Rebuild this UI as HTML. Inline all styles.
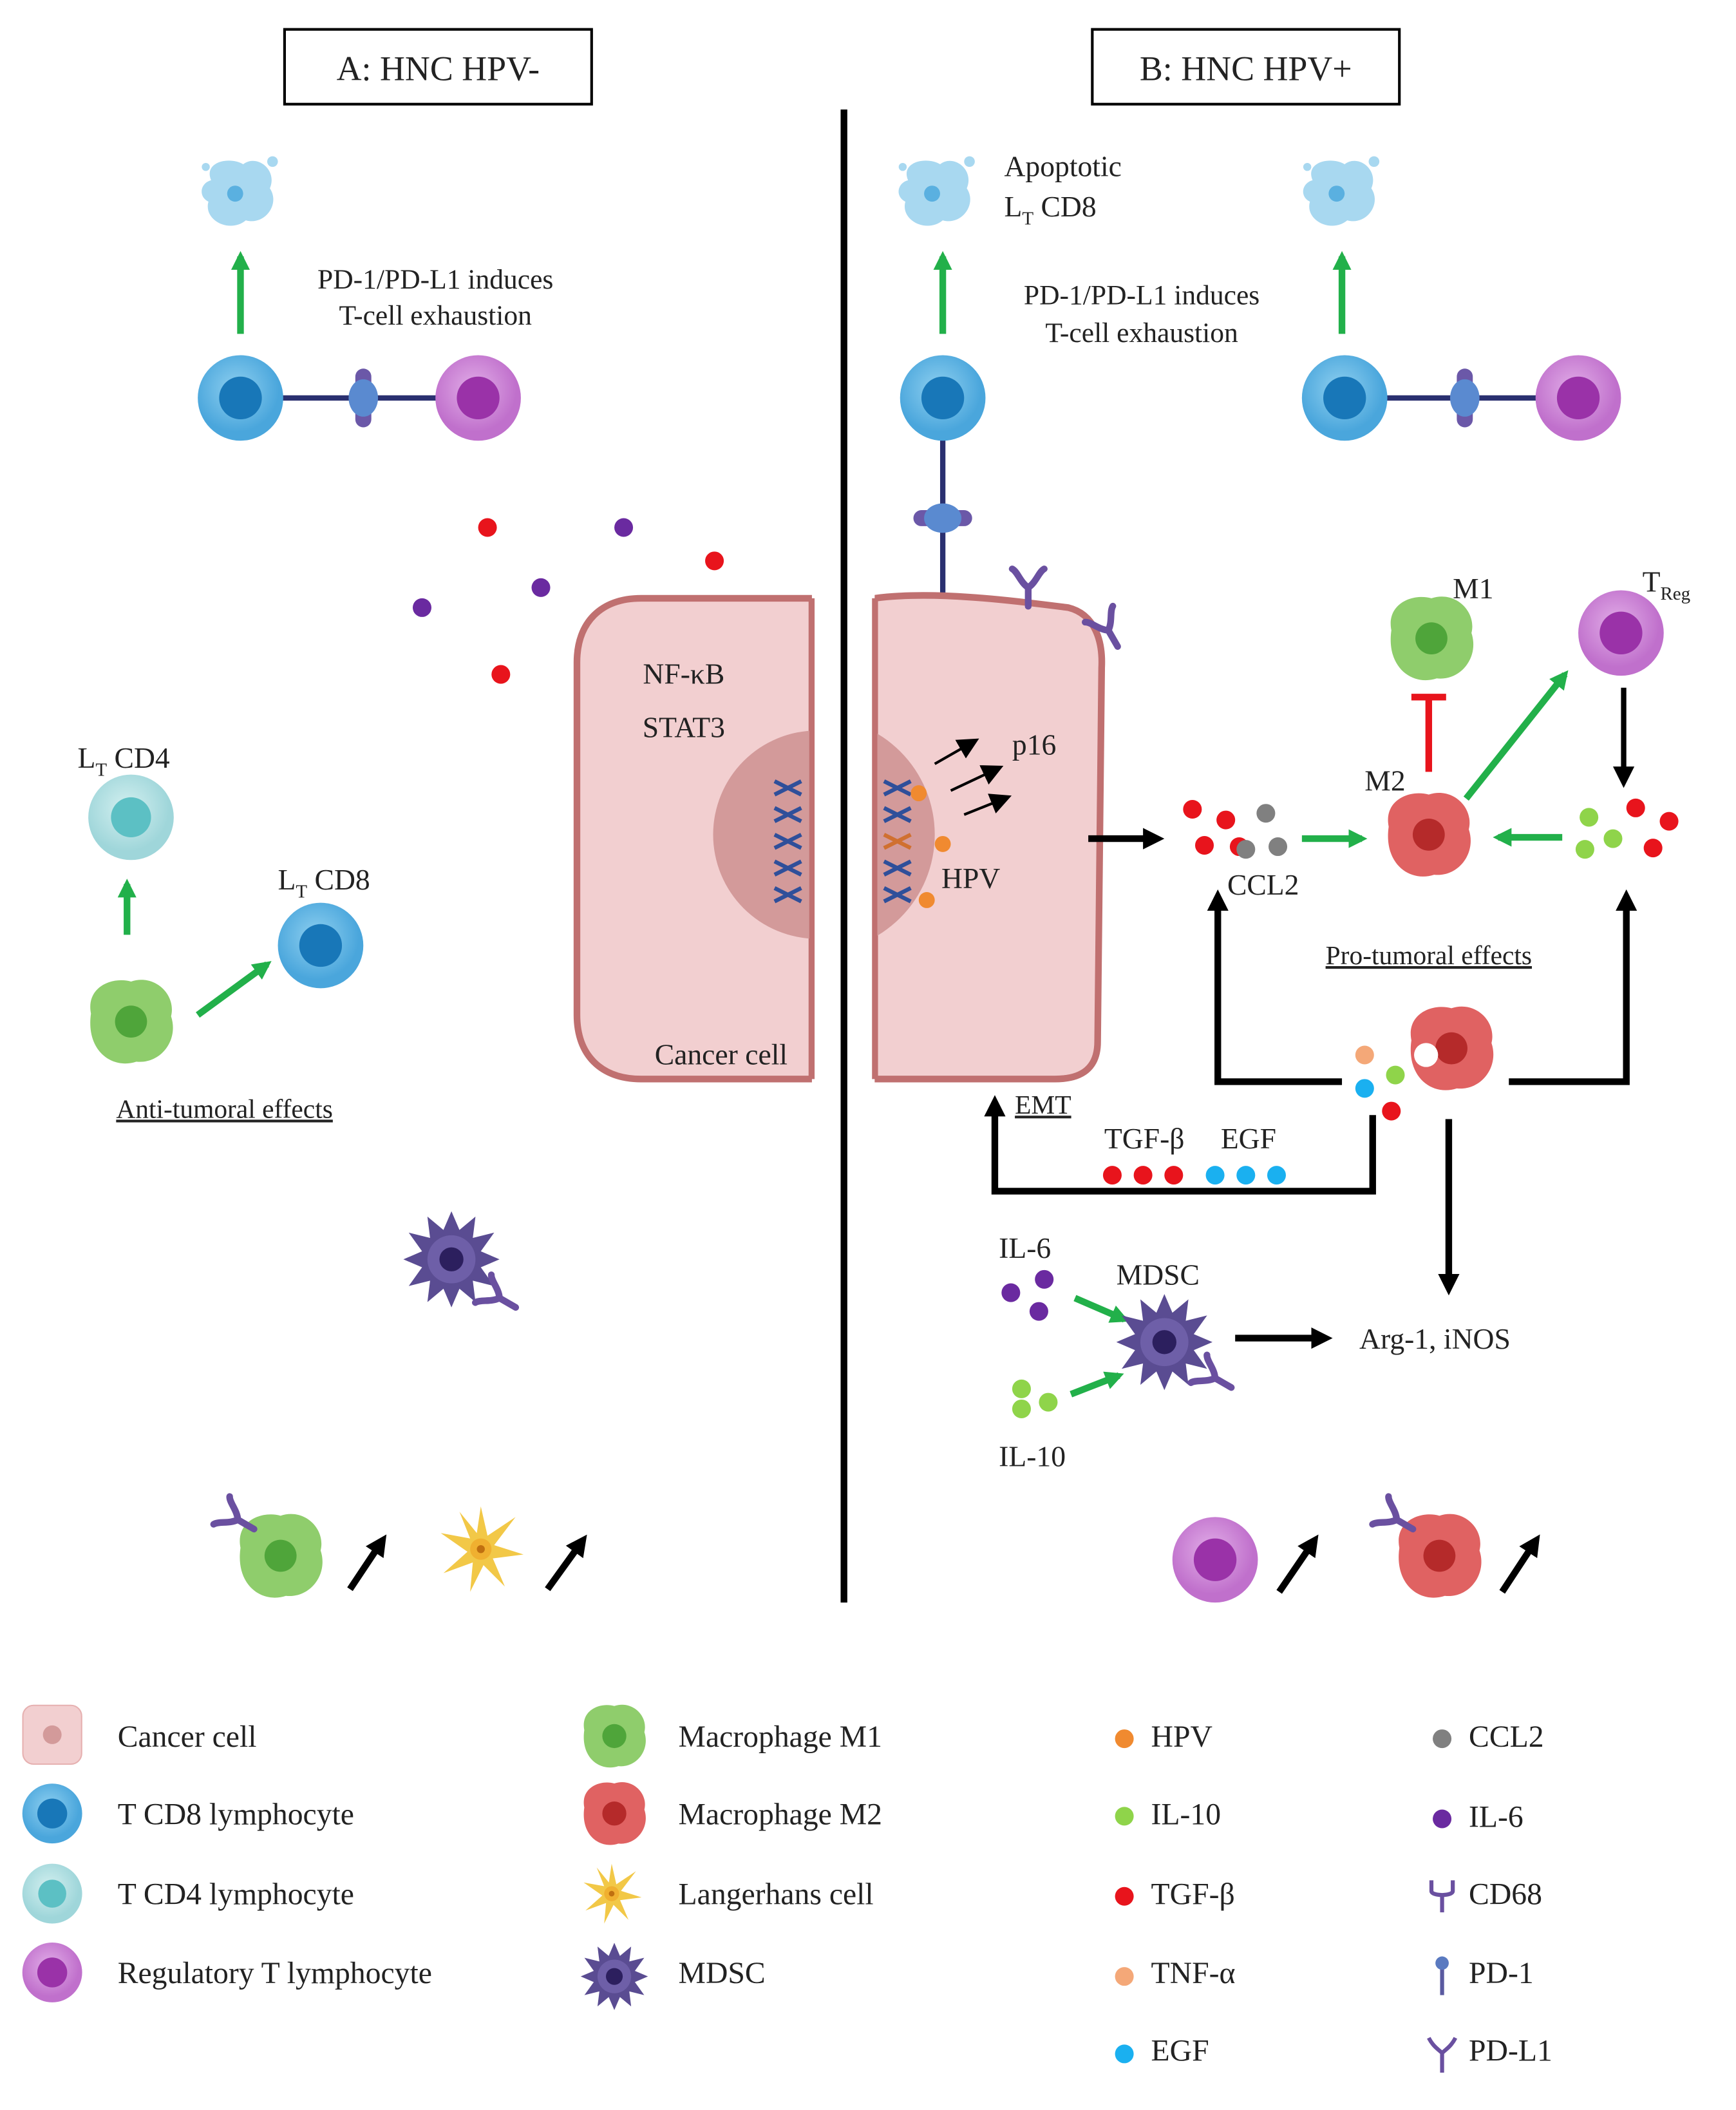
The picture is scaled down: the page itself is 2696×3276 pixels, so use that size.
<!DOCTYPE html>
<html><head><meta charset="utf-8"><style>
html,body{margin:0;padding:0;background:#fff}
svg{display:block}
text{font-family:"Liberation Serif",serif;fill:#222}
</style></head><body>
<svg width="2696" height="3276" viewBox="0 0 1300 1580" xmlns="http://www.w3.org/2000/svg">
<defs>
<marker id="g" markerWidth="16" markerHeight="16" refX="10" refY="8" orient="auto" markerUnits="userSpaceOnUse"><path d="M0,1 L14,8 L0,15 z" fill="#22b04a"/></marker>
<marker id="k" markerWidth="18" markerHeight="18" refX="10" refY="9" orient="auto" markerUnits="userSpaceOnUse"><path d="M0,1 L16,9 L0,17 z" fill="#000"/></marker>
<radialGradient id="cd8" cx="45%" cy="40%"><stop offset="0" stop-color="#8fd0f0"/><stop offset="1" stop-color="#4aa6dc"/></radialGradient>
<radialGradient id="cd4" cx="45%" cy="40%"><stop offset="0" stop-color="#d4f0f0"/><stop offset="1" stop-color="#9fd6da"/></radialGradient>
<radialGradient id="trg" cx="45%" cy="40%"><stop offset="0" stop-color="#e2aee8"/><stop offset="1" stop-color="#c070cc"/></radialGradient>
<g id="CD8"><circle r="32" fill="url(#cd8)"/><circle r="16" fill="#1877b8"/></g>
<g id="CD4"><circle r="32" fill="url(#cd4)"/><circle r="15" fill="#5cc0c4"/></g>
<g id="TRG"><circle r="32" fill="url(#trg)"/><circle r="16" fill="#9a32a8"/></g>
<g id="M1"><path d="M-30,-6 C-34,-26 -14,-34 0,-30 C18,-36 34,-20 30,-4 C36,14 22,32 4,30 C-14,36 -34,22 -30,-6z" fill="#8fcd6c"/><circle r="12" fill="#4fa53a"/></g>
<g id="M2"><path d="M-30,-6 C-34,-26 -14,-34 0,-30 C18,-36 34,-20 30,-4 C36,14 22,32 4,30 C-14,36 -34,22 -30,-6z" fill="#e06262"/><circle r="12" fill="#b52a2a"/></g>
<g id="APO"><path d="M-20,-10 C-26,-24 -6,-28 4,-22 C14,-30 30,-18 24,-4 C32,8 20,24 6,20 C-6,30 -26,20 -22,6 C-30,2 -28,-8 -20,-10z" fill="#a8d8f0"/><circle cx="-2" cy="0" r="6" fill="#5ab0e0"/><circle cx="26" cy="-24" r="4" fill="#a8d8f0"/><circle cx="-24" cy="-20" r="3" fill="#a8d8f0"/></g>
<g id="MDSC"><path d="M0,-36 L6,-22 L18,-32 L16,-16 L32,-20 L22,-6 L36,0 L22,6 L32,20 L16,16 L18,32 L6,22 L0,36 L-6,22 L-18,32 L-16,16 L-32,20 L-22,6 L-36,0 L-22,-6 L-32,-20 L-16,-16 L-18,-32 L-6,-22z" fill="#5a4c92"/><circle r="18" fill="#6e5fa8"/><circle r="9" fill="#2c1f5e"/></g>
<g id="LANG"><path d="M0,-32 L5,-10 L26,-24 L10,-3 L32,4 L9,7 L18,28 L2,12 L-8,32 L-6,10 L-28,18 L-10,2 L-30,-12 L-8,-8 L-16,-28 L-3,-12z" fill="#f2c847"/><circle r="8" fill="#f0b030"/><circle r="3" fill="#c07010"/></g>
<g id="Y"><path d="M0,0 L0,14 M0,0 C-6,-4 -8,-12 -12,-14 M0,0 C6,-4 8,-12 12,-14" stroke="#6a50a0" stroke-width="5" fill="none" stroke-linecap="round"/></g>
<g id="PD"><rect x="-6" y="-22" width="12" height="44" rx="6" fill="#6b58a8"/><ellipse cx="0" cy="0" rx="11" ry="14" fill="#5a8ad0"/></g>
</defs>

<rect x="213" y="22" width="230" height="56" fill="#fff" stroke="#000" stroke-width="2"/>
<text x="328" y="60" font-size="26" text-anchor="middle">A: HNC HPV-</text>
<rect x="818" y="22" width="230" height="56" fill="#fff" stroke="#000" stroke-width="2"/>
<text x="933" y="60" font-size="26" text-anchor="middle">B: HNC HPV+</text>
<line x1="632" y1="82" x2="632" y2="1200" stroke="#000" stroke-width="5"/>

<use href="#APO" x="178" y="145"/>
<line x1="180" y1="250" x2="180" y2="192" stroke="#22b04a" stroke-width="5" marker-end="url(#g)"/>
<text x="326" y="216" font-size="21" text-anchor="middle">PD-1/PD-L1 induces</text>
<text x="326" y="243" font-size="21" text-anchor="middle">T-cell exhaustion</text>
<line x1="205" y1="298" x2="335" y2="298" stroke="#2a3070" stroke-width="4"/>
<use href="#CD8" x="180" y="298"/>
<use href="#PD" x="272" y="298"/>
<use href="#TRG" x="358" y="298"/>

<use href="#APO" x="700" y="145"/>
<text x="752" y="132" font-size="22">Apoptotic</text>
<text x="752" y="162" font-size="22">L<tspan font-size="14" dy="6">T</tspan><tspan dy="-6"> CD8</tspan></text>
<line x1="706" y1="250" x2="706" y2="192" stroke="#22b04a" stroke-width="5" marker-end="url(#g)"/>
<text x="855" y="228" font-size="21" text-anchor="middle">PD-1/PD-L1 induces</text>
<text x="855" y="256" font-size="21" text-anchor="middle">T-cell exhaustion</text>
<use href="#APO" x="1003" y="145"/>
<line x1="1005" y1="250" x2="1005" y2="192" stroke="#22b04a" stroke-width="5" marker-end="url(#g)"/>
<line x1="1030" y1="298" x2="1160" y2="298" stroke="#2a3070" stroke-width="4"/>
<use href="#CD8" x="1007" y="298"/>
<use href="#PD" x="1097" y="298"/>
<use href="#TRG" x="1182" y="298"/>
<line x1="706" y1="320" x2="706" y2="455" stroke="#2a3070" stroke-width="4"/>
<use href="#CD8" x="706" y="298"/>
<g transform="translate(706,388) rotate(90)"><use href="#PD"/></g>

<g fill="#e8141c"><circle cx="365" cy="395" r="7"/><circle cx="535" cy="420" r="7"/><circle cx="375" cy="505" r="7"/></g>
<g fill="#6a2aa0"><circle cx="467" cy="395" r="7"/><circle cx="405" cy="440" r="7"/><circle cx="316" cy="455" r="7"/></g>

<clipPath id="cl"><rect x="420" y="440" width="188" height="380"/></clipPath>
<clipPath id="cr"><rect x="655" y="440" width="180" height="380"/></clipPath>
<g clip-path="url(#cl)">
<path d="M480,448 L608,448 L608,808 L480,808 C450,808 432,790 432,760 L432,496 C432,466 450,448 480,448z" fill="#f2cfd0" stroke="#c07070" stroke-width="5"/>
<circle cx="612" cy="625" r="78" fill="#d39a9a"/>
</g>
<g clip-path="url(#cr)">
<path d="M655,448 C700,442 760,450 800,455 C820,460 826,480 825,500 L822,780 C822,800 810,808 790,808 L655,808z" fill="#f2cfd0" stroke="#c07070" stroke-width="5"/>
<circle cx="612" cy="625" r="88" fill="#d39a9a"/>
</g>
<line x1="608" y1="448" x2="608" y2="808" stroke="#c07070" stroke-width="4"/>
<line x1="655" y1="448" x2="655" y2="808" stroke="#c07070" stroke-width="4"/>
<text x="512" y="512" font-size="22" text-anchor="middle">NF-κB</text>
<text x="512" y="552" font-size="22" text-anchor="middle">STAT3</text>
<text x="540" y="797" font-size="22" text-anchor="middle">Cancer cell</text>
<g stroke="#2f4f9a" stroke-width="3" fill="none">
<path d="M580,585 L600,595 M580,595 L600,585 M580,605 L600,615 M580,615 L600,605 M580,625 L600,635 M580,635 L600,625 M580,645 L600,655 M580,655 L600,645 M580,665 L600,675 M580,675 L600,665"/>
<path d="M662,585 L682,595 M662,595 L682,585 M662,605 L682,615 M662,615 L682,605 M662,645 L682,655 M662,655 L682,645 M662,665 L682,675 M662,675 L682,665"/>
</g>
<path d="M662,625 L682,635 M662,635 L682,625" stroke="#d07030" stroke-width="3"/>
<g fill="#f08a30"><circle cx="688" cy="594" r="6"/><circle cx="706" cy="632" r="6"/><circle cx="694" cy="674" r="6"/></g>
<text x="705" y="665" font-size="22">HPV</text>
<g stroke="#000" stroke-width="2" marker-end="url(#k)">
<line x1="700" y1="572" x2="728" y2="556"/><line x1="712" y1="592" x2="746" y2="576"/><line x1="722" y1="610" x2="752" y2="598"/>
</g>
<text x="758" y="565" font-size="22">p16</text>
<use href="#Y" x="770" y="440"/>
<g transform="translate(830,472) rotate(-30)"><use href="#Y"/></g>

<text x="58" y="575" font-size="22">L<tspan font-size="14" dy="6">T</tspan><tspan dy="-6"> CD4</tspan></text>
<use href="#CD4" x="98" y="612"/>
<line x1="95" y1="700" x2="95" y2="662" stroke="#22b04a" stroke-width="5" marker-end="url(#g)"/>
<use href="#M1" x="98" y="765"/>
<line x1="148" y1="760" x2="200" y2="722" stroke="#22b04a" stroke-width="5" marker-end="url(#g)"/>
<text x="208" y="666" font-size="22">L<tspan font-size="14" dy="6">T</tspan><tspan dy="-6"> CD8</tspan></text>
<use href="#CD8" x="240" y="708"/>
<text x="168" y="837" font-size="20" text-anchor="middle" text-decoration="underline">Anti-tumoral effects</text>
<use href="#MDSC" x="338" y="943"/>
<g transform="translate(374,972) rotate(-60)"><use href="#Y"/></g>

<line x1="815" y1="628" x2="866" y2="628" stroke="#000" stroke-width="5" marker-end="url(#k)"/>
<g fill="#e8141c"><circle cx="893" cy="606" r="7"/><circle cx="918" cy="614" r="7"/><circle cx="902" cy="633" r="7"/><circle cx="928" cy="634" r="7"/></g>
<g fill="#808080"><circle cx="948" cy="609" r="7"/><circle cx="933" cy="636" r="7"/><circle cx="957" cy="634" r="7"/></g>
<text x="946" y="670" font-size="22" text-anchor="middle">CCL2</text>
<line x1="975" y1="628" x2="1020" y2="628" stroke="#22b04a" stroke-width="5" marker-end="url(#g)"/>
<use href="#M2" x="1070" y="625"/>
<text x="1022" y="592" font-size="22">M2</text>
<line x1="1070" y1="578" x2="1070" y2="522" stroke="#e8141c" stroke-width="5"/>
<line x1="1057" y1="522" x2="1083" y2="522" stroke="#e8141c" stroke-width="5"/>
<use href="#M1" x="1072" y="478"/>
<text x="1088" y="448" font-size="22">M1</text>
<line x1="1098" y1="598" x2="1172" y2="505" stroke="#22b04a" stroke-width="5" marker-end="url(#g)"/>
<use href="#TRG" x="1214" y="474"/>
<text x="1230" y="443" font-size="22">T<tspan font-size="14" dy="6">Reg</tspan></text>
<line x1="1216" y1="515" x2="1216" y2="584" stroke="#000" stroke-width="4" marker-end="url(#k)"/>
<g fill="#8fd44a"><circle cx="1190" cy="612" r="7"/><circle cx="1208" cy="628" r="7"/><circle cx="1187" cy="636" r="7"/></g>
<g fill="#e8141c"><circle cx="1225" cy="605" r="7"/><circle cx="1250" cy="615" r="7"/><circle cx="1238" cy="635" r="7"/></g>
<line x1="1170" y1="627" x2="1122" y2="627" stroke="#22b04a" stroke-width="5" marker-end="url(#g)"/>
<text x="1070" y="722" font-size="20" text-anchor="middle" text-decoration="underline">Pro-tumoral effects</text>

<use href="#M2" x="1087" y="785"/>
<circle cx="1068" cy="790" r="9" fill="#fff"/>
<g><circle cx="1022" cy="790" r="7" fill="#f4a878"/><circle cx="1022" cy="815" r="7" fill="#1ab0f0"/><circle cx="1045" cy="805" r="7" fill="#8fd44a"/><circle cx="1042" cy="832" r="7" fill="#e8141c"/></g>
<polyline points="1005,810 912,810 912,672" fill="none" stroke="#000" stroke-width="5" marker-end="url(#k)"/>
<polyline points="1130,810 1218,810 1218,672" fill="none" stroke="#000" stroke-width="5" marker-end="url(#k)"/>
<line x1="1085" y1="838" x2="1085" y2="964" stroke="#000" stroke-width="5" marker-end="url(#k)"/>
<polyline points="1028,835 1028,892 745,892 745,826" fill="none" stroke="#000" stroke-width="5" marker-end="url(#k)"/>
<text x="760" y="834" font-size="20" text-decoration="underline">EMT</text>
<text x="857" y="860" font-size="22" text-anchor="middle">TGF-β</text>
<text x="935" y="860" font-size="22" text-anchor="middle">EGF</text>
<g fill="#e8141c"><circle cx="833" cy="880" r="7"/><circle cx="856" cy="880" r="7"/><circle cx="879" cy="880" r="7"/></g>
<g fill="#1ab0f0"><circle cx="910" cy="880" r="7"/><circle cx="933" cy="880" r="7"/><circle cx="956" cy="880" r="7"/></g>

<text x="748" y="942" font-size="22">IL-6</text>
<g fill="#6a2aa0"><circle cx="757" cy="968" r="7"/><circle cx="782" cy="958" r="7"/><circle cx="778" cy="982" r="7"/></g>
<line x1="805" y1="972" x2="842" y2="988" stroke="#22b04a" stroke-width="5" marker-end="url(#g)"/>
<use href="#MDSC" x="872" y="1005"/>
<g transform="translate(910,1032) rotate(-60)"><use href="#Y"/></g>
<text x="836" y="962" font-size="22">MDSC</text>
<g fill="#8fd44a"><circle cx="765" cy="1040" r="7"/><circle cx="785" cy="1050" r="7"/><circle cx="765" cy="1055" r="7"/></g>
<text x="748" y="1098" font-size="22">IL-10</text>
<line x1="802" y1="1044" x2="838" y2="1030" stroke="#22b04a" stroke-width="5" marker-end="url(#g)"/>
<line x1="925" y1="1002" x2="992" y2="1002" stroke="#000" stroke-width="5" marker-end="url(#k)"/>
<text x="1018" y="1010" font-size="22">Arg-1, iNOS</text>

<use href="#M1" x="210" y="1165"/>
<g transform="translate(178,1138) rotate(-60)"><use href="#Y"/></g>
<line x1="262" y1="1190" x2="286" y2="1154" stroke="#000" stroke-width="5" marker-end="url(#k)"/>
<use href="#LANG" x="360" y="1160"/>
<line x1="410" y1="1190" x2="436" y2="1154" stroke="#000" stroke-width="5" marker-end="url(#k)"/>
<use href="#TRG" x="910" y="1168"/>
<line x1="958" y1="1192" x2="984" y2="1154" stroke="#000" stroke-width="5" marker-end="url(#k)"/>
<use href="#M2" x="1078" y="1165"/>
<g transform="translate(1046,1138) rotate(-60)"><use href="#Y"/></g>
<line x1="1125" y1="1192" x2="1150" y2="1154" stroke="#000" stroke-width="5" marker-end="url(#k)"/>

<g font-size="23">
<rect x="17" y="1277" width="44" height="44" rx="8" fill="#f2cfd0" stroke="#e6b0b0"/><circle cx="39" cy="1299" r="7" fill="#d39a9a"/>
<text x="88" y="1308">Cancer cell</text>
<g transform="translate(39,1358) scale(0.7)"><use href="#CD8"/></g><text x="88" y="1366">T CD8 lymphocyte</text>
<g transform="translate(39,1418) scale(0.7)"><use href="#CD4"/></g><text x="88" y="1426">T CD4 lymphocyte</text>
<g transform="translate(39,1477) scale(0.7)"><use href="#TRG"/></g><text x="88" y="1485">Regulatory T lymphocyte</text>

<g transform="translate(460,1300) scale(0.75)"><use href="#M1"/></g><text x="508" y="1308">Macrophage M1</text>
<g transform="translate(460,1358) scale(0.75)"><use href="#M2"/></g><text x="508" y="1366">Macrophage M2</text>
<g transform="translate(458,1418) scale(0.7)"><use href="#LANG"/></g><text x="508" y="1426">Langerhans cell</text>
<g transform="translate(460,1480) scale(0.7)"><use href="#MDSC"/></g><text x="508" y="1485">MDSC</text>

<circle cx="842" cy="1302" r="7" fill="#f08a30"/><text x="862" y="1308">HPV</text>
<circle cx="842" cy="1360" r="7" fill="#8fd44a"/><text x="862" y="1366">IL-10</text>
<circle cx="842" cy="1420" r="7" fill="#e8141c"/><text x="862" y="1426">TGF-β</text>
<circle cx="842" cy="1480" r="7" fill="#f4a878"/><text x="862" y="1485">TNF-α</text>
<circle cx="842" cy="1538" r="7" fill="#1ab0f0"/><text x="862" y="1543">EGF</text>

<circle cx="1080" cy="1302" r="7" fill="#808080"/><text x="1100" y="1308">CCL2</text>
<circle cx="1080" cy="1362" r="7" fill="#6a2aa0"/><text x="1100" y="1368">IL-6</text>
<path d="M1072,1408 L1072,1416 C1072,1420 1088,1420 1088,1416 L1088,1408 M1080,1418 L1080,1432" stroke="#6a50a0" stroke-width="3" fill="none"/><text x="1100" y="1426">CD68</text>
<path d="M1080,1472 L1080,1494" stroke="#5a5aa0" stroke-width="3"/><circle cx="1080" cy="1470" r="5" fill="#5a7ac0"/><text x="1100" y="1485">PD-1</text>
<path d="M1070,1526 C1074,1534 1080,1536 1080,1538 C1080,1536 1086,1534 1090,1526 M1080,1536 L1080,1552" stroke="#6a50a0" stroke-width="3" fill="none"/><text x="1100" y="1543">PD-L1</text>
</g>
</svg>
</body></html>
